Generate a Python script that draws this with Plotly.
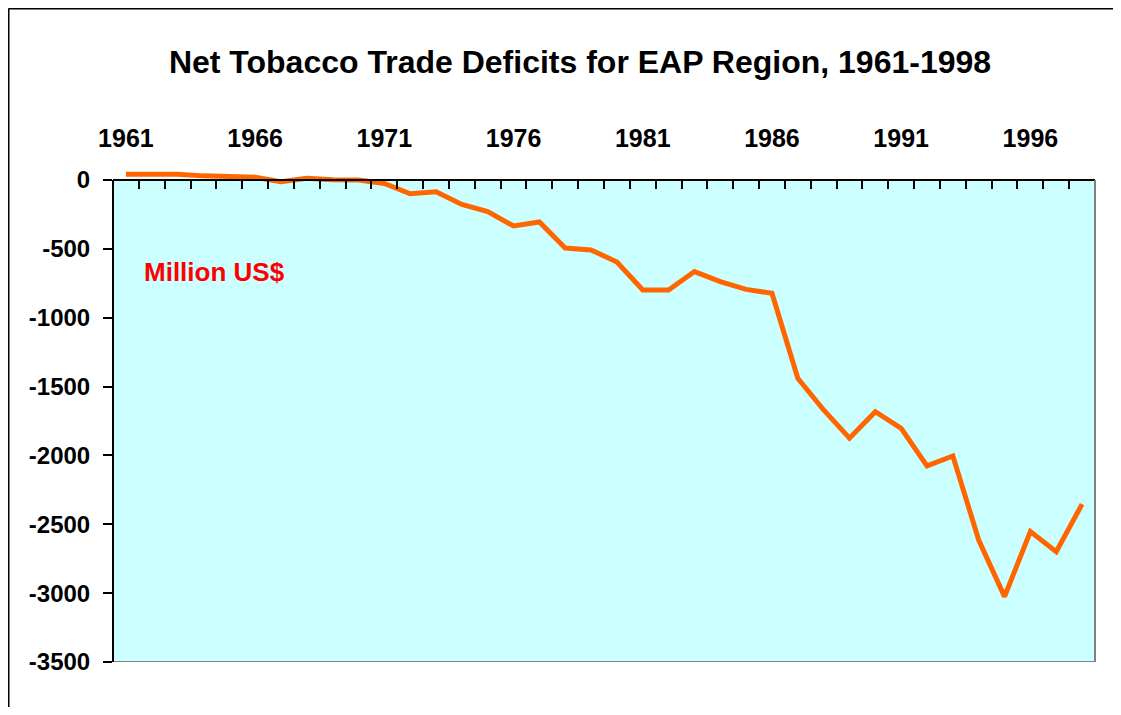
import plotly.graph_objects as go

years = list(range(1961, 1999))
deficit = [42, 42, 42, 30, 29, 20, -12, 12, 2, 0,
           -25, -100, -85, -177, -230, -334, -305, -494, -508, -595,
           -799, -799, -665, -738, -794, -823, -1440, -1670, -1875, -1682,
           -1803, -2076, -2004, -2614, -3025, -2553, -2699, -2354]
year_labels = [1961, 1966, 1971, 1976, 1981, 1986, 1991, 1996]
y_ticks = [0, -500, -1000, -1500, -2000, -2500, -3000, -3500]
y_ticktext = ["0", "-500", "-1000", "-1500", "-2000", "-2500", "-3000", "-3500"]

# page has an 8px body margin on every side, so the figure is made 16px smaller
W, H = 1105, 699
L, R, T, B = 105, 18, 162, 45
pw, ph = W - L - R, H - T - B
zero_px = 172                      # pixel row of the value 0
y_top = 3500 * (zero_px - T) / (H - B - zero_px)   # headroom so line above 0 isn't clipped
zero_pos = (H - B - zero_px) / ph
font = "Arial, Liberation Sans, sans-serif"

fig = go.Figure()
fig.add_trace(go.Scatter(x=years, y=deficit, mode="lines",
                         line=dict(color="#FF6600", width=5), hoverinfo="skip"))

fig.update_layout(
    width=W, height=H,
    margin=dict(l=L, r=R, t=T, b=B),
    paper_bgcolor="white",
    plot_bgcolor="white",
    showlegend=False,
    title=dict(text="Net Tobacco Trade Deficits for EAP Region, 1961-1998",
               x=572 / W, xanchor="center", y=1 - 54 / H, yanchor="middle",
               font=dict(family=font, size=32, color="black", weight="bold")),
)

fig.update_xaxes(
    range=[1960.5, 1998.5], side="top", anchor="free", position=zero_pos,
    tickvals=year_labels, ticks="", showgrid=False, zeroline=False,
    tickfont=dict(family=font, size=25, color="black", weight="bold"),
    ticklabelstandoff=22,
    showline=True, linecolor="black", linewidth=2,
    minor=dict(tick0=1960.5, dtick=1, ticks="inside", ticklen=8,
               tickcolor="black", tickwidth=2, showgrid=False),
)
fig.update_yaxes(
    range=[-3500, y_top], tickvals=y_ticks, ticktext=y_ticktext,
    ticks="outside", ticklen=9,
    tickcolor="black", tickwidth=2, showgrid=False, zeroline=False,
    tickfont=dict(family=font, size=24, color="black", weight="bold"),
    ticklabelstandoff=8, showline=False,
)

# plot area background and borders
fig.add_shape(type="rect", xref="paper", yref="y", x0=0, x1=1, y0=-3500, y1=0,
              fillcolor="#CCFFFF", line=dict(width=0), layer="below")
fig.add_shape(type="line", xref="paper", yref="y", x0=1, x1=1, y0=-3500, y1=0,
              line=dict(color="#808080", width=2))
fig.add_shape(type="line", xref="paper", yref="y", x0=0, x1=1, y0=-3500, y1=-3500,
              line=dict(color="#808080", width=2))
fig.add_shape(type="line", xref="paper", yref="y", x0=0, x1=0, y0=-3500, y1=0,
              line=dict(color="black", width=2))

# outer chart frame: only its left and top edges fall inside the window
frame_x0, frame_y1 = (0.5 - L) / pw, (H - B - 0.5) / ph
fig.add_shape(type="line", xref="paper", yref="paper",
              x0=frame_x0, x1=frame_x0, y0=-0.2, y1=frame_y1,
              line=dict(color="black", width=2))
fig.add_shape(type="line", xref="paper", yref="paper",
              x0=frame_x0, x1=1.1, y0=frame_y1, y1=frame_y1,
              line=dict(color="black", width=2))

fig.add_annotation(text="Million US$", xref="paper", yref="paper",
                   x=(134 - L) / pw, y=(H - B - 264) / ph,
                   xanchor="left", yanchor="middle", showarrow=False,
                   font=dict(family=font, size=26, color="#FF0000", weight="bold"))

fig.write_html("out.html")
